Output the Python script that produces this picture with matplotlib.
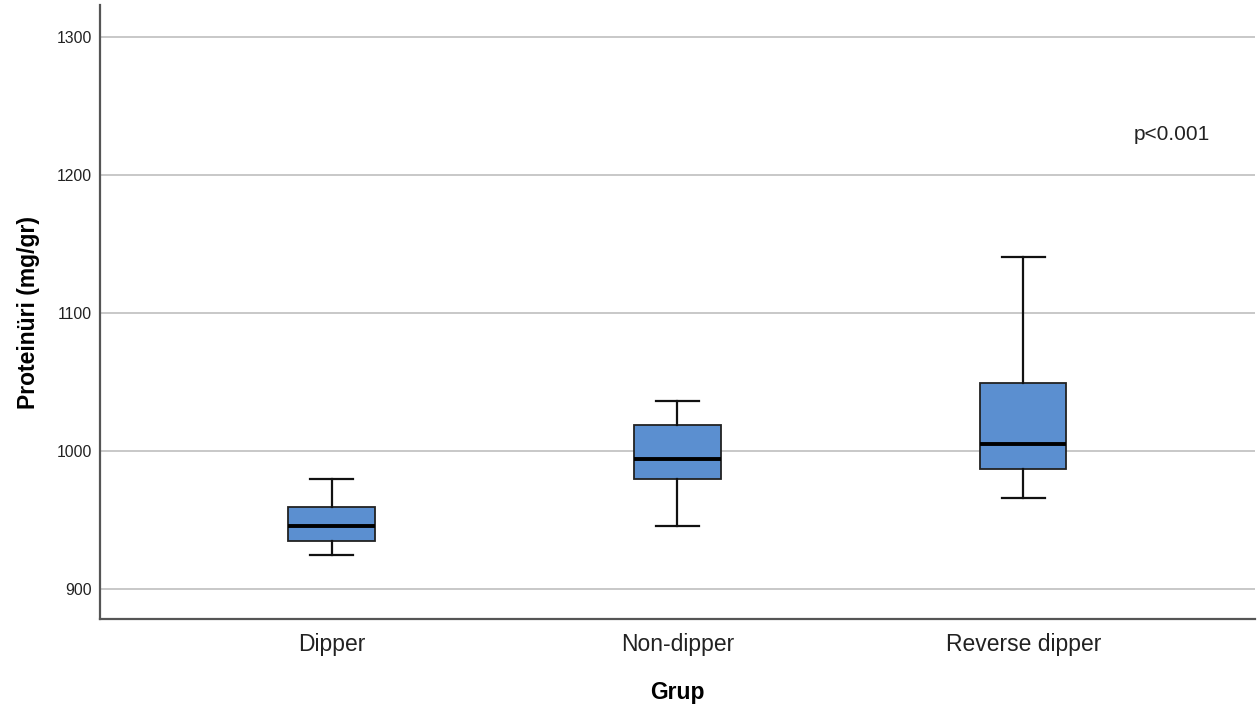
import matplotlib.pyplot as plt

plt.rcParams['font.family'] = ['Liberation Sans', 'DejaVu Sans']

# five-number summaries
grupper = ['Dipper', 'Non-dipper', 'Reverse dipper']
alt_bıyık = [924.8, 945.7, 966.4]
q1 = [934.9, 980.1, 987.0]
medyan = [945.7, 994.2, 1005.0]
q3 = [959.4, 1019.0, 1049.7]
ust_bıyık = [980.3, 1036.3, 1140.6]
y_ticks = [900, 1000, 1100, 1200, 1300]

stats = []
for i in range(len(grupper)):
    stats.append(dict(label=grupper[i], whislo=alt_bıyık[i], q1=q1[i],
                      med=medyan[i], q3=q3[i], whishi=ust_bıyık[i], fliers=[]))

fig = plt.figure(figsize=(12.58, 7.04), dpi=100)
ax = fig.add_axes([0.0795, 0.1207, 0.918, 0.872])

ax.set_axisbelow(True)
ax.yaxis.grid(True, color='#c8c8c8', linewidth=1.4)

bp = ax.bxp(stats, positions=range(len(grupper)), widths=0.25, patch_artist=True,
            boxprops=dict(facecolor='#5b8fd0', edgecolor='#222222', linewidth=1.3),
            medianprops=dict(color='black', linewidth=2.8),
            whiskerprops=dict(color='#111111', linewidth=1.6),
            capprops=dict(color='#111111', linewidth=1.6),
            capwidths=0.125)

ax.set_xlim(-0.67, 2.67)
ax.set_ylim(878.6, 1323)
ax.set_yticks(y_ticks)
ax.set_xticks(range(len(grupper)))
ax.set_xticklabels(grupper, fontsize=16.5, color='#222222')
ax.tick_params(axis='y', labelsize=11.3, length=0, pad=6, labelcolor='#222222')
ax.tick_params(axis='x', length=0, pad=10)

for s in ['top', 'right']:
    ax.spines[s].set_visible(False)
for s in ['left', 'bottom']:
    ax.spines[s].set_color('#555555')
    ax.spines[s].set_linewidth(1.6)

ax.set_ylabel('Proteinüri (mg/gr)', fontsize=16.5, fontweight='bold', labelpad=12)
ax.set_xlabel('Grup', fontsize=16.5, fontweight='bold', labelpad=18)

ax.text(2.43, 1229, 'p<0.001', fontsize=15, ha='center', va='center', color='#222222')

fig.savefig('out.png', dpi=100)
